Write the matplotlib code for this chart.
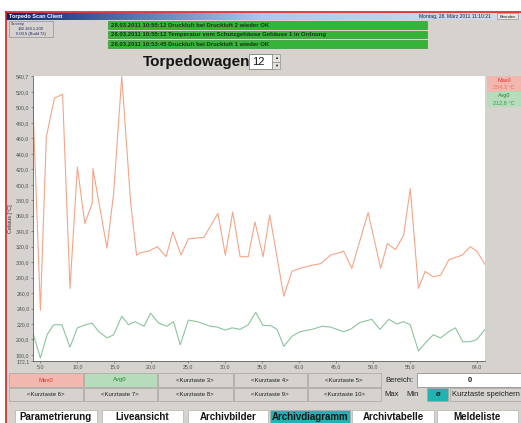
import matplotlib
matplotlib.use("Agg")
import matplotlib.pyplot as plt
from matplotlib.patches import Rectangle
import numpy as np

plt.rcParams['font.family'] = ['Liberation Sans', 'DejaVu Sans']

# data
max_x = [4.0, 5.0, 5.8, 6.9, 8.0, 9.0, 10.0, 11.0, 12.0, 12.1,
         14.0, 14.9, 16.0, 17.2, 18.0, 18.5, 19.6, 20.8, 22.0, 22.9,
         24.0, 25.0, 27.1, 29.0, 30.0, 31.0, 32.0, 33.1, 34.0, 35.1,
         36.0, 37.9, 39.0, 40.1, 41.7, 42.9, 44.2, 46.0, 47.1, 49.3,
         51.0, 51.9, 53.0, 54.1, 55.0, 56.1, 57.0, 58.1, 59.1, 60.2,
         62.0, 63.1, 64.0, 65.1]
max_y = [501, 238, 462, 512, 517, 266, 423, 350, 376, 421,
         318, 389, 540, 377, 309, 312, 314, 320, 307, 339,
         309, 330, 332, 363, 309, 365, 307, 307, 352, 307,
         361, 256, 288, 292, 296, 298, 309, 314, 292, 364,
         292, 324, 316, 335, 395, 266, 288, 281, 283, 303,
         309, 320, 314, 297]

avg_x = [4.0, 5.0, 5.9, 6.8, 7.9, 9.0, 10.0, 11.1, 12.0, 12.9,
         14.0, 14.9, 16.0, 16.9, 17.8, 19.0, 19.9, 21.0, 22.1, 23.0,
         23.9, 25.0, 26.2, 28.0, 28.9, 30.0, 30.9, 32.0, 33.1, 34.1,
         35.1, 36.1, 37.0, 37.9, 39.0, 40.1, 41.7, 43.1, 44.2, 46.0,
         46.9, 48.2, 49.8, 50.9, 52.1, 53.2, 54.1, 55.0, 56.1, 57.0,
         58.1, 59.1, 60.2, 61.1, 62.1, 63.1, 64.0, 65.1]
avg_y = [208, 176, 206, 219, 219, 190, 215, 219, 221, 210,
         202, 206, 230, 219, 223, 217, 234, 221, 217, 223,
         193, 225, 223, 217, 216, 212, 215, 213, 219, 235,
         218, 218, 213, 191, 204, 210, 213, 217, 216, 210,
         213, 222, 226, 213, 226, 220, 223, 219, 185, 195,
         206, 202, 210, 215, 197, 197, 200, 213]

y_ticks = [172.1] + list(range(180, 521, 20)) + [540.7]
x_ticks = [5, 10, 15, 20, 25, 30, 35, 40, 45, 50, 55, 64]

messages = [
    "28.03.2011 10:55:12 Druckluft bei Druckluft 2 wieder OK",
    "28.03.2011 10:55:12 Temperatur vom Schutzgehäuse Gehäuse 1 in Ordnung",
    "28.03.2011 10:53:45 Druckluft bei Druckluft 1 wieder OK",
]
row1 = ["Max0", "Avg0", "<Kurztaste 3>", "<Kurztaste 4>", "<Kurztaste 5>"]
row2 = ["<Kurztaste 6>", "<Kurztaste 7>", "<Kurztaste 8>", "<Kurztaste 9>", "<Kurztaste 10>"]
nav = ["Parametrierung", "Liveansicht", "Archivbilder", "Archivdiagramm",
       "Archivtabelle", "Meldeliste"]

W, H = 521, 423
GRAY = '#d6d3ce'
PINK = '#f2b8b0'
LGREEN = '#b6dcbc'
TEAL = '#1fb3b3'
ORANGE = '#f5a488'
GREEN = '#8cc49c'

fig = plt.figure(figsize=(W / 100, H / 100), dpi=100)
ui = fig.add_axes([0, 0, 1, 1])
ui.set_xlim(0, W)
ui.set_ylim(H, 0)
ui.axis('off')


def box(x0, y0, x1, y1, fc, ec='none', lw=0.6, z=1):
    ui.add_patch(Rectangle((x0, y0), x1 - x0, y1 - y0, facecolor=fc,
                           edgecolor=ec, linewidth=lw, zorder=z))


def txt(x, y, s, size=4.5, color='#202020', ha='center', weight='normal'):
    ui.text(x, y, s, fontsize=size, color=color, ha=ha, va='center',
            fontweight=weight, zorder=5)


# window frame
box(6, 12, W, H, GRAY)
ui.plot([6, 6], [12, H], color='#e02020', lw=1.2, zorder=6)
ui.plot([6, W], [12, 12], color='#e02020', lw=1.2, zorder=6)

# title bar gradient
grad = np.linspace(0, 1, 256).reshape(1, -1)
cmap = matplotlib.colors.LinearSegmentedColormap.from_list(
    'tb', ['#0a246a', '#a6caf0', '#d6dde8'])
ui.imshow(grad, cmap=cmap, extent=(6, W, 20, 13), aspect='auto', zorder=2)
txt(9, 16.5, "Torpedo Scan Client", size=4, color='white', ha='left', weight='bold')
txt(455, 16.5, "Montag, 28. März 2011 11:10:21", size=3.6, color='#202040')
box(497, 13.5, 518, 19.5, '#e8e6e0', ec='#808080', lw=0.4, z=3)
txt(507.5, 16.5, "Beenden", size=3, color='#202020')

# server info box
box(9, 21, 53, 37, GRAY, ec='#909090', lw=0.5, z=3)
txt(11, 24, "Serverip", size=2.7, color='#303060', ha='left')
txt(31, 29, "192.168.1.200", size=3, color='#202060')
txt(31, 33.5, "0.00.5 (Build 72)", size=3, color='#202060')

# message bars
for i, m in enumerate(messages):
    y0 = 21.5 + i * 9.5
    box(108, y0, 427, y0 + 7.5, '#36b43a', ec='#2a8a2a', lw=0.4, z=3)
    txt(111, y0 + 3.8, m, size=4.3, color='#103810', ha='left', weight='bold')

# Torpedowagen selector
txt(197, 62, "Torpedowagen", size=11, color='#151515', weight='bold')
box(249, 54.5, 272, 69.5, 'white', ec='#808080', lw=0.6, z=3)
txt(258, 62, "12", size=8, color='#151515')
box(272, 54.5, 280, 62, '#e4e2dc', ec='#808080', lw=0.4, z=3)
box(272, 62, 280, 69.5, '#e4e2dc', ec='#808080', lw=0.4, z=3)
txt(276, 58.2, "▲", size=3)
txt(276, 65.8, "▼", size=3)

# legend panel on the right
box(487, 76, W, 92, PINK, z=3)
txt(504, 80.5, "Max0", size=4, color='#e03030')
txt(504, 87, "254,3 °C", size=4, color='#f07050')
box(487, 92, W, 107, LGREEN, z=3)
txt(504, 96, "Avg0", size=4, color='#1a8a2a')
txt(504, 102.5, "212,8 °C", size=4, color='#30a040')

# shortcut buttons
bx = [8, 83, 157, 233, 307, 381]
row1_fc = [PINK, LGREEN, GRAY, GRAY, GRAY]
row1_tc = ['#e03030', '#1a8a2a', '#202020', '#202020', '#202020']
for i in range(5):
    box(bx[i] + 0.5, 373, bx[i + 1] - 0.5, 387, row1_fc[i], ec='#a8a5a0', lw=0.5, z=3)
    txt((bx[i] + bx[i + 1]) / 2, 380, row1[i], size=4.3, color=row1_tc[i])
    box(bx[i] + 0.5, 388, bx[i + 1] - 0.5, 401, GRAY, ec='#a8a5a0', lw=0.5, z=3)
    txt((bx[i] + bx[i + 1]) / 2, 394.5, row2[i], size=4.3)
txt(385, 380.5, "Bereich:", size=5.5, ha='left')
box(417, 373.5, W, 387, 'white', ec='#808080', lw=0.5, z=3)
txt(470, 380.5, "0", size=5.5, weight='bold')
txt(391.5, 394.5, "Max", size=5.5)
txt(412.5, 394.5, "Min", size=5.5)
box(427, 388.5, 448, 401, TEAL, ec='#a8a5a0', lw=0.5, z=3)
txt(437.5, 394.5, "ø", size=5.5, weight='bold')
box(450, 388.5, W, 401, GRAY, ec='#a8a5a0', lw=0.5, z=3)
txt(452, 394.5, "Kurztaste speichern", size=5.5, ha='left')

# navigation buttons
nx = [(15, 97), (102, 183), (188, 268), (270, 350), (352, 434), (437, 518)]
for (a, b), lab in zip(nx, nav):
    fc = TEAL if lab == "Archivdiagramm" else 'white'
    box(a, 410, b, H + 2, fc, ec='#b0b0b0', lw=0.5, z=3)
    txt((a + b) / 2, 417.5, lab, size=7, color='#151515', weight='bold')

# chart
ax = fig.add_axes([33 / W, 1 - 361 / H, (485 - 33) / W, (361 - 76) / H])
ax.set_zorder(2)
ax.set_facecolor('white')
ax.plot(max_x, max_y, color=ORANGE, lw=0.8)
ax.plot(avg_x, avg_y, color=GREEN, lw=0.8)
ax.set_xlim(4.0, 65.1)
ax.set_ylim(172.1, 540.7)
ax.set_yticks(y_ticks)
ax.set_yticklabels([f"{v:.1f}".replace('.', ',') for v in y_ticks])
ax.set_xticks(x_ticks)
ax.set_xticklabels([f"{v:.1f}".replace('.', ',') for v in x_ticks])
ax.tick_params(axis='both', labelsize=3.8, colors='#505050', length=1.5,
               width=0.4, pad=1)
ax.set_ylabel("Celsius [°C]", fontsize=4, color='#303030', labelpad=2)
for s in ['top', 'right']:
    ax.spines[s].set_visible(False)
for s in ['left', 'bottom']:
    ax.spines[s].set_color('#606060')
    ax.spines[s].set_linewidth(0.6)

fig.savefig("out.png", dpi=100)
